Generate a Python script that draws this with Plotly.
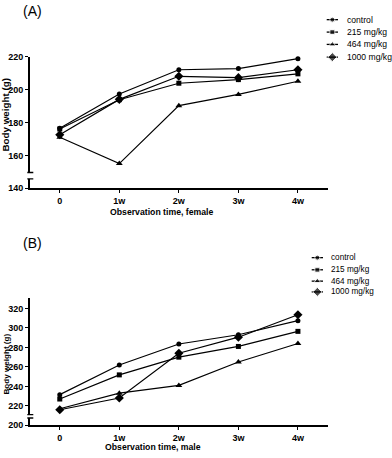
import plotly.graph_objects as go

# Data
weeks = [0, 1, 2, 3, 4]
week_labels = ["0", "1w", "2w", "3w", "4w"]
groups = ["control", "215 mg/kg", "464 mg/kg", "1000 mg/kg"]

female_control = [176.5, 197.3, 212.0, 212.7, 218.7]
female_215 = [176.0, 193.8, 203.8, 206.0, 209.5]
female_464 = [171.0, 155.0, 190.2, 197.0, 205.0]
female_1000 = [172.5, 194.0, 208.0, 207.2, 212.0]

male_control = [231.5, 262.0, 283.5, 293.0, 307.5]
male_215 = [227.0, 251.8, 270.0, 281.0, 296.5]
male_464 = [217.0, 233.0, 241.0, 265.0, 284.0]
male_1000 = [216.0, 228.0, 274.0, 290.5, 313.5]

female_ticks = [140, 160, 180, 200, 220]
male_ticks = [200, 220, 240, 260, 280, 300, 320]

# Styling
W, H = 392, 458
FONT = "Liberation Sans"
symbols = ["circle", "square", "triangle-up", "diamond"]
msizes = [5, 5, 6, 7]


def px(x):
    return x / W


def py(y):
    return 1 - y / H


fig = go.Figure()

panels = [
    ("x", "y", [female_control, female_215, female_464, female_1000]),
    ("x2", "y2", [male_control, male_215, male_464, male_1000]),
]
for xa, ya, series in panels:
    for name, vals, sym, ms in zip(groups, series, symbols, msizes):
        fig.add_trace(go.Scatter(
            x=weeks, y=vals, xaxis=xa, yaxis=ya, name=name,
            mode="lines+markers",
            line=dict(color="black", width=1.2),
            marker=dict(symbol=sym, size=ms, color="black"),
            showlegend=False, cliponaxis=False,
        ))

# hand-drawn legends (plotly's legend rows are too tall for this figure)
legends = [
    dict(rows=[15, 27.7, 40.3, 53.3], x0=326.7, x1=338, tx=345.2, size=8.6),
    dict(rows=[258.3, 270.7, 282.3, 293.3], x0=311.7, x1=323, tx=329.3, size=8.2),
]
annotations = []
for lg in legends:
    for name, sym, ms, yy in zip(groups, symbols, msizes, lg["rows"]):
        fig.add_trace(go.Scatter(
            x=[lg["x0"], (lg["x0"] + lg["x1"]) / 2, lg["x1"]], y=[yy, yy, yy],
            xaxis="x3", yaxis="y3", mode="lines+markers",
            line=dict(color="black", width=1.3),
            marker=dict(symbol=sym, size=[0, ms, 0], color="black"),
            showlegend=False, hoverinfo="skip", cliponaxis=False,
        ))
        annotations.append(dict(
            x=px(lg["tx"]), y=py(yy), xref="paper", yref="paper",
            text=name, showarrow=False, xanchor="left", yanchor="middle",
            font=dict(family=FONT, size=lg["size"], color="black"),
        ))

# panel labels and axis titles
annotations += [
    dict(x=px(32.5), y=py(6.5), text="(A)", font=dict(size=14)),
    dict(x=px(32.5), y=py(243.5), text="(B)", font=dict(size=14)),
    dict(x=px(161.5), y=py(211.5), text="<b>Observation time, female</b>", font=dict(size=8.7)),
    dict(x=px(153), y=py(451.5), text="<b>Observation time, male</b>", font=dict(size=8.7)),
    dict(x=px(6), y=py(113), text="<b>Body weight (g)</b>", textangle=-90, font=dict(size=9.8)),
    dict(x=px(6.5), y=py(367), text="<b>Body weight (g)</b>", textangle=-90, font=dict(size=8.1)),
]
for a in annotations[-6:]:
    a.update(xref="paper", yref="paper", showarrow=False,
             xanchor="center", yanchor="middle")
    a["font"].update(family=FONT, color="black")

axis_common = dict(
    showline=True, linecolor="black", linewidth=1.6, showgrid=False,
    zeroline=False, ticks="outside", ticklen=3, tickwidth=1.4, tickcolor="black",
    tickfont=dict(family=FONT, size=9, color="black", weight="bold"),
)
xdom = [px(30), px(327.7)]

# axis breaks: white gap plus small caps on each side
shapes = []
for ya, lo, hi in [("y", 145.7, 149.6), ("y2", 207.5, 211)]:
    shapes.append(dict(type="rect", xref="paper", yref=ya, x0=px(26), x1=px(34),
                       y0=lo, y1=hi, fillcolor="white", line=dict(width=0),
                       layer="above"))
    for v in (lo, hi):
        shapes.append(dict(type="line", xref="paper", yref=ya, x0=px(27.3),
                           x1=px(33.3), y0=v, y1=v,
                           line=dict(color="black", width=1.4), layer="above"))

fig.update_layout(
    width=W, height=H,
    margin=dict(l=0, r=0, t=0, b=0),
    paper_bgcolor="white", plot_bgcolor="rgba(0,0,0,0)",
    showlegend=False,
    xaxis=dict(domain=xdom, anchor="y", range=[-0.5, 4.5],
               tickvals=weeks, ticktext=week_labels, **axis_common),
    yaxis=dict(domain=[py(187.4), py(52.7)], anchor="x", range=[140, 220],
               tickvals=female_ticks, **axis_common),
    xaxis2=dict(domain=xdom, anchor="y2", range=[-0.5, 4.5],
                tickvals=weeks, ticktext=week_labels, **axis_common),
    yaxis2=dict(domain=[py(429.7), py(299.3)], anchor="x2", range=[200, 331],
                tickvals=male_ticks, **axis_common),
    xaxis3=dict(domain=[0, 1], anchor="y3", range=[0, W], visible=False,
                fixedrange=True),
    yaxis3=dict(domain=[0, 1], anchor="x3", range=[H, 0], visible=False,
                fixedrange=True),
    annotations=annotations,
    shapes=shapes,
)

# drop the page's default body margin so the figure sits at the window corner
fig.write_html("out.html", config={"displayModeBar": False},
               post_script="document.body.style.margin='0';")
